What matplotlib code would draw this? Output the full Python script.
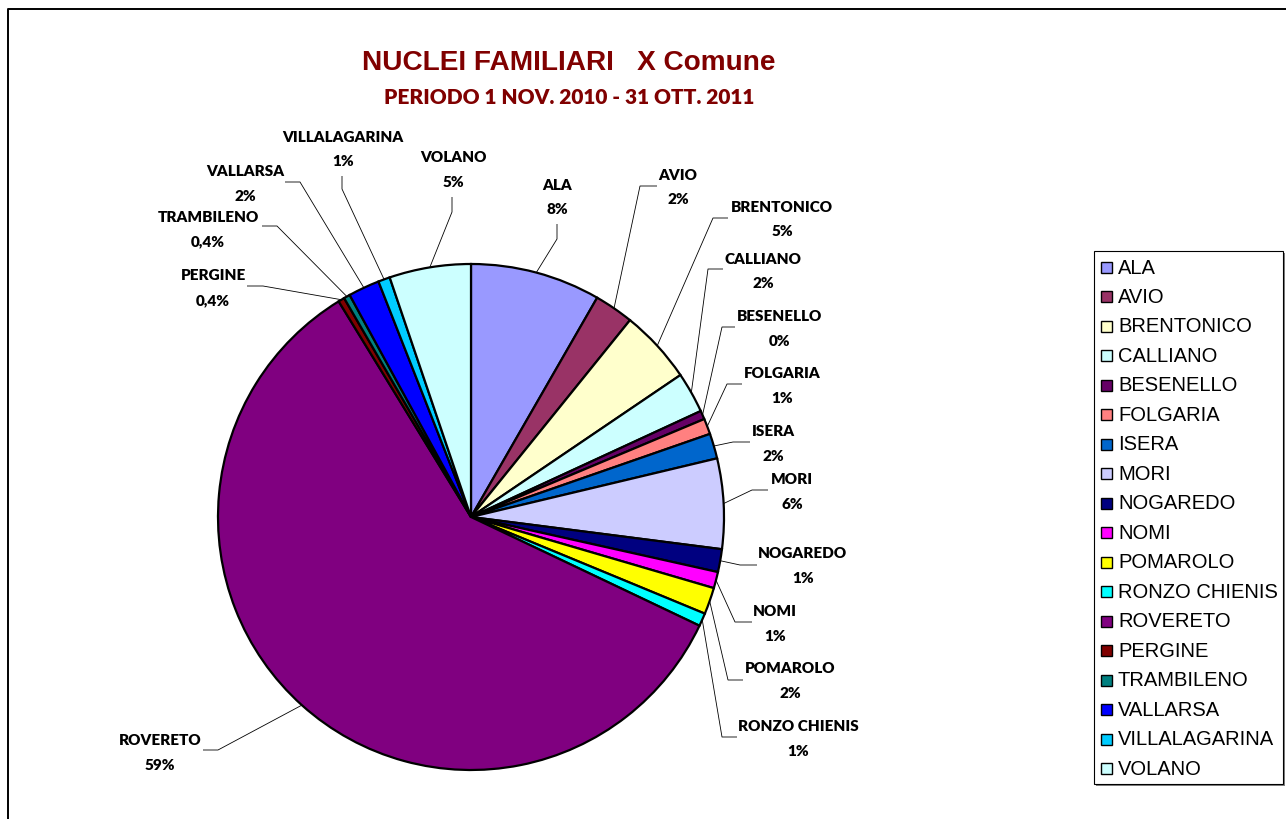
import numpy as np
import matplotlib
matplotlib.use("Agg")
import matplotlib.pyplot as plt
from matplotlib.patches import Rectangle

# Data
comuni = ["ALA", "AVIO", "BRENTONICO", "CALLIANO", "BESENELLO", "FOLGARIA",
          "ISERA", "MORI", "NOGAREDO", "NOMI", "POMAROLO", "RONZO CHIENIS",
          "ROVERETO", "PERGINE", "TRAMBILENO", "VALLARSA", "VILLALAGARINA",
          "VOLANO"]
quote = [8.3, 2.5, 4.7, 2.6, 0.55, 1.0, 1.6, 5.75, 1.46, 1.04, 1.7, 0.83,
         59.1, 0.4, 0.4, 2.0, 0.75, 5.2]
etichette = ["8%", "2%", "5%", "2%", "0%", "1%", "2%", "6%", "1%", "1%", "2%",
             "1%", "59%", "0,4%", "0,4%", "2%", "1%", "5%"]
colori = ["#9999FF", "#993366", "#FFFFCC", "#CCFFFF", "#660066", "#FF8080",
          "#0066CC", "#CCCCFF", "#000080", "#FF00FF", "#FFFF00", "#00FFFF",
          "#800080", "#800000", "#008080", "#0000FF", "#00CCFF", "#CCFFFF"]

# Layout (pixel positions, y from top)
W, H = 1286, 820
centro = (471, 518)
raggio = 253
pos_nome = [(557, 185), (678, 175), (782, 207), (763, 259), (780, 317),
            (782, 374), (773, 432), (792, 480), (803, 554), (775, 612),
            (790, 669), (798, 727), (160, 741), (213, 276), (208, 217),
            (245, 172), (343, 137), (453, 158)]
stub = [((557, 225), (557, 240)), ((657, 187), (640, 187)),
        ((728, 219), (713, 219)), ((723, 270), (708, 270)),
        ((735, 328), (722, 328)), ((742, 385), (727, 385)),
        ((750, 443), (733, 443)), ((768, 491), (752, 491)),
        ((757, 566), (740, 566)), ((752, 623), (735, 623)),
        ((743, 681), (728, 681)), ((737, 738), (722, 738)),
        ((203, 751), (218, 751)), ((247, 287), (263, 287)),
        ((262, 227), (277, 227)), ((285, 183), (300, 183)),
        ((342, 177), (342, 190)), ((452, 198), (452, 213))]

rosso = "#800000"

def P(x, y):
    return x, H - y

fig = plt.figure(figsize=(W / 100, H / 100), dpi=100)
ax = fig.add_axes([0, 0, 1, 1])

wedges, _ = ax.pie(quote, colors=colori, startangle=90, counterclock=False,
                   center=P(*centro), radius=raggio,
                   wedgeprops=dict(edgecolor="black", linewidth=1.6),
                   normalize=True)
ax.set_xlim(0, W)
ax.set_ylim(0, H)
ax.set_aspect("equal")
ax.axis("off")

# etichette con linee guida
for w, nome, pct, (nx, ny), (s0, s1) in zip(wedges, comuni, etichette, pos_nome, stub):
    mid = np.deg2rad((w.theta1 + w.theta2) / 2)
    ex = w.center[0] + raggio * np.cos(mid)
    ey = w.center[1] + raggio * np.sin(mid)
    xs = [P(*s0)[0], P(*s1)[0], ex]
    ys = [P(*s0)[1], P(*s1)[1], ey]
    ax.plot(xs, ys, color="black", lw=0.6, solid_capstyle="butt")
    ax.text(*P(nx, ny), nome, ha="center", va="center", fontsize=11,
            family="Lato", fontweight="heavy")
    ax.text(*P(nx, ny + 24.5), pct, ha="center", va="center", fontsize=11,
            family="Lato", fontweight="heavy")

# titolo
ax.text(*P(569, 63), "NUCLEI FAMILIARI   X Comune", ha="center", va="center",
        fontsize=20.2, family="Liberation Sans", fontweight="bold", color=rosso)
ax.text(*P(569, 97), "PERIODO 1 NOV. 2010 - 31 OTT. 2011", ha="center",
        va="center", fontsize=15, family="Lato", fontweight="heavy",
        color=rosso)

# legenda
x0, y0, x1, y1 = 1094, 252, 1283, 785
ax.add_patch(Rectangle(P(x0 + 2, y1 + 2), x1 - x0, y1 - y0,
                       facecolor="#808080", edgecolor="none"))
ax.add_patch(Rectangle(P(x0, y1), x1 - x0, y1 - y0, facecolor="white",
                       edgecolor="black", lw=0.8))
for i, (nome, c) in enumerate(zip(comuni, colori)):
    yy = 268 + i * 29.5
    ax.add_patch(Rectangle(P(1101, yy + 5.5), 11, 11, facecolor=c,
                           edgecolor="black", lw=1.0))
    ax.text(*P(1118, yy), nome, ha="left", va="center", fontsize=14.5,
            family="Liberation Sans")

# bordo del grafico
ax.plot([8, 8, W + 5], [-5, H - 10, H - 10], color="black", lw=1.4)

fig.savefig("out.png", dpi=100)
